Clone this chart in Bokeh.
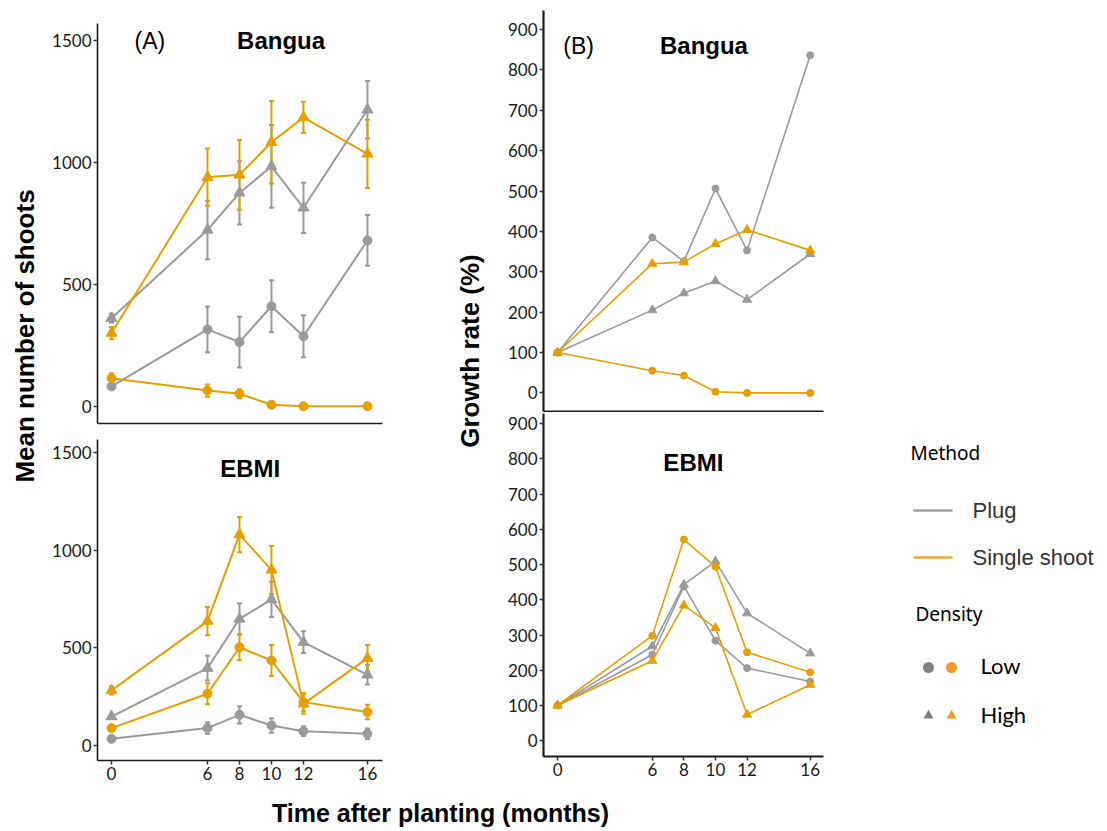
import math
from bokeh.plotting import figure
from bokeh.layouts import row, column
from bokeh.models import Range1d, FixedTicker, Label, Whisker, TeeHead, ColumnDataSource
from bokeh.embed import file_html
from bokeh.resources import INLINE

# ---------------- data ----------------
months = [0, 6, 8, 10, 12, 16]
month_labels = ["0", "6", "8", "10", "12", "16"]
shoot_ticks = [0, 500, 1000, 1500]
growth_ticks = [0, 100, 200, 300, 400, 500, 600, 700, 800, 900]

# (A) Mean number of shoots - Bangua
shoots_bangua_plug_low = [81, 315, 263, 410, 287, 680]
shoots_bangua_plug_low_se = [10, 94, 104, 107, 86, 104]
shoots_bangua_plug_high = [361, 723, 875, 984, 814, 1216]
shoots_bangua_plug_high_se = [18, 120, 130, 170, 103, 118]
shoots_bangua_single_low = [115, 64, 51, 6, 0, 0]
shoots_bangua_single_low_se = [20, 25, 18, 0, 0, 0]
shoots_bangua_single_high = [300, 939, 949, 1083, 1185, 1035]
shoots_bangua_single_high_se = [25, 118, 143, 169, 64, 140]

# (A) Mean number of shoots - EBMI
shoots_ebmi_plug_low = [34, 89, 157, 102, 73, 60]
shoots_ebmi_plug_low_se = [4, 30, 44, 37, 25, 27]
shoots_ebmi_plug_high = [148, 396, 648, 748, 529, 362]
shoots_ebmi_plug_high_se = [8, 63, 80, 90, 56, 50]
shoots_ebmi_single_low = [89, 265, 503, 435, 222, 171]
shoots_ebmi_single_low_se = [6, 54, 67, 79, 47, 37]
shoots_ebmi_single_high = [282, 637, 1080, 899, 213, 447]
shoots_ebmi_single_high_se = [21, 72, 90, 122, 51, 67]

# (B) Growth rate (%) - Bangua
growth_bangua_plug_low = [100, 385, 326, 506, 353, 836]
growth_bangua_plug_high = [100, 205, 247, 277, 231, 344]
growth_bangua_single_low = [100, 55, 43, 3, 0, 0]
growth_bangua_single_high = [100, 320, 324, 369, 404, 353]

# (B) Growth rate (%) - EBMI
growth_ebmi_plug_low = [100, 244, 438, 284, 206, 168]
growth_ebmi_plug_high = [100, 268, 443, 509, 362, 248]
growth_ebmi_single_low = [100, 298, 571, 494, 251, 194]
growth_ebmi_single_high = [100, 227, 384, 320, 74, 159]

GRAY = "#9a9a9a"
ORANGE = "#e69f00"
TICK_FONT = "Lato"
BOLD_FONT = "Liberation Sans"


def make_panel(width, height, xr, yr, yticks, borders, show_xlabels, axis_w):
    l, r, t, b = borders
    p = figure(width=width, height=height, x_range=Range1d(*xr), y_range=Range1d(*yr),
               output_backend="svg", toolbar_location=None,
               min_border_left=l, min_border_right=r, min_border_top=t, min_border_bottom=b)
    p.grid.visible = False
    p.outline_line_color = None
    p.background_fill_color = "white"
    p.border_fill_color = "white"
    if show_xlabels:
        p.xaxis.ticker = FixedTicker(ticks=months)
        p.xaxis.major_label_overrides = {m: s for m, s in zip(months, month_labels)}
    else:
        p.xaxis.ticker = FixedTicker(ticks=[])
    p.yaxis.ticker = FixedTicker(ticks=yticks)
    for ax in p.axis:
        ax.axis_line_color = "#1a1a1a"
        ax.axis_line_width = axis_w
        ax.major_tick_line_color = "#333333"
        ax.major_tick_line_width = 1.5
        ax.major_tick_out = 4
        ax.major_tick_in = 0
        ax.minor_tick_line_color = None
        ax.major_label_text_font = TICK_FONT
        ax.major_label_text_font_size = "17px"
        ax.major_label_text_color = "#1a1a1a"
        ax.major_label_standoff = 2
    if not show_xlabels:
        p.xaxis.major_tick_out = 0
        p.xaxis.major_label_standoff = 0
    return p


def add_series(p, y, color, marker, size, lw, se=None):
    src = ColumnDataSource(dict(x=months, y=y))
    if se is not None:
        bx = [m for m, s in zip(months, se) if s > 0]
        lo = [v - s for v, s in zip(y, se) if s > 0]
        up = [v + s for v, s in zip(y, se) if s > 0]
        wsrc = ColumnDataSource(dict(base=bx, lower=lo, upper=up))
        w = Whisker(source=wsrc, base="base", lower="lower", upper="upper",
                    line_color=color, line_width=2,
                    upper_head=TeeHead(size=5, line_color=color, line_width=2),
                    lower_head=TeeHead(size=5, line_color=color, line_width=2))
        p.add_layout(w)
    p.line("x", "y", source=src, line_color=color, line_width=lw)
    p.scatter("x", "y", source=src, marker=marker, size=size,
              fill_color=color, line_color=color)


def panel_text(p, x, y, text, size, bold=True):
    p.add_layout(Label(x=x, y=y, text=text, text_align="center", text_baseline="middle",
                       text_font=BOLD_FONT, text_font_size=size,
                       text_font_style="bold" if bold else "normal", text_color="black"))


# ---------------- panels ----------------
A_XR = (-0.875, 16.94)
B_XR = (-0.89, 16.84)

# page coords: A frame x 97..382 ; A top frame y 23..423 ; A bottom frame y 439..760
a_top = make_panel(344, 431, A_XR, (-71, 1570), shoot_ticks, (49, 10, 23, 8), False, 1.6)
a_bot = make_panel(344, 357, A_XR, (-77, 1567), shoot_ticks, (49, 10, 8, 28), True, 1.6)
# B frame x 543..823 ; B top frame y 10..411 ; B bottom frame y 413..756
b_top = make_panel(335, 412, B_XR, (-46, 947), growth_ticks, (45, 10, 10, 1), False, 2.2)
b_bot = make_panel(335, 376, B_XR, (-45, 929), growth_ticks, (45, 10, 1, 32), True, 2.2)

# A top - Bangua
add_series(a_top, shoots_bangua_plug_low, GRAY, "circle", 9, 2, shoots_bangua_plug_low_se)
add_series(a_top, shoots_bangua_plug_high, GRAY, "triangle", 11, 2, shoots_bangua_plug_high_se)
add_series(a_top, shoots_bangua_single_low, ORANGE, "circle", 9, 2, shoots_bangua_single_low_se)
add_series(a_top, shoots_bangua_single_high, ORANGE, "triangle", 11, 2, shoots_bangua_single_high_se)
panel_text(a_top, 2.4, 1498, "(A)", "23px", bold=False)
panel_text(a_top, 10.6, 1500, "Bangua", "24px")

# A bottom - EBMI
add_series(a_bot, shoots_ebmi_plug_low, GRAY, "circle", 9, 2, shoots_ebmi_plug_low_se)
add_series(a_bot, shoots_ebmi_plug_high, GRAY, "triangle", 11, 2, shoots_ebmi_plug_high_se)
add_series(a_bot, shoots_ebmi_single_low, ORANGE, "circle", 9, 2, shoots_ebmi_single_low_se)
add_series(a_bot, shoots_ebmi_single_high, ORANGE, "triangle", 11, 2, shoots_ebmi_single_high_se)
panel_text(a_bot, 8.67, 1418, "EBMI", "24px")

# B top - Bangua
add_series(b_top, growth_bangua_plug_low, GRAY, "circle", 7, 1.6)
add_series(b_top, growth_bangua_plug_high, GRAY, "triangle", 9, 1.6)
add_series(b_top, growth_bangua_single_low, ORANGE, "circle", 7, 1.6)
add_series(b_top, growth_bangua_single_high, ORANGE, "triangle", 9, 1.6)
panel_text(b_top, 1.33, 858, "(B)", "23px", bold=False)
panel_text(b_top, 9.27, 861, "Bangua", "24px")

# B bottom - EBMI
add_series(b_bot, growth_ebmi_plug_low, GRAY, "circle", 7, 1.6)
add_series(b_bot, growth_ebmi_plug_high, GRAY, "triangle", 9, 1.6)
add_series(b_bot, growth_ebmi_single_low, ORANGE, "circle", 7, 1.6)
add_series(b_bot, growth_ebmi_single_high, ORANGE, "triangle", 9, 1.6)
panel_text(b_bot, 8.6, 790, "EBMI", "24px")


# ---------------- helper canvases (labels / legend) ----------------
def blank(width, height):
    p = figure(width=width, height=height, x_range=Range1d(0, width), y_range=Range1d(height, 0),
               output_backend="svg", toolbar_location=None,
               x_axis_location=None, y_axis_location=None,
               min_border=0, min_border_left=0, min_border_right=0,
               min_border_top=0, min_border_bottom=0)
    p.grid.visible = False
    p.outline_line_color = None
    p.background_fill_color = "white"
    p.border_fill_color = "white"
    return p


ROW_H = 788
ylab_a = blank(48, ROW_H)
ylab_a.add_layout(Label(x=24, y=335.5, text="Mean number of shoots", angle=math.pi / 2,
                        text_align="center", text_baseline="middle",
                        text_font=BOLD_FONT, text_font_style="bold", text_font_size="26px",
                        text_color="black"))

ylab_b = blank(106, ROW_H)
ylab_b.add_layout(Label(x=77, y=350.5, text="Growth rate (%)", angle=math.pi / 2,
                        text_align="center", text_baseline="middle",
                        text_font=BOLD_FONT, text_font_style="bold", text_font_size="26px",
                        text_color="black"))

# legend canvas (local coords: x = page_x - 833, y = page_y)
leg = blank(270, ROW_H)
leg.add_layout(Label(x=77, y=452, text="Method", text_baseline="middle",
                     text_font="Noto Sans", text_font_size="19px", text_color="black"))
leg.line([80, 119], [510, 510], line_color="#a0a0a0", line_width=2.5)
leg.line([80, 119], [557, 557], line_color="#f0a830", line_width=2.5)
leg.add_layout(Label(x=139, y=510, text="Plug", text_baseline="middle",
                     text_font=BOLD_FONT, text_font_size="22px", text_color="#333333"))
leg.add_layout(Label(x=139, y=557, text="Single shoot", text_baseline="middle",
                     text_font=BOLD_FONT, text_font_size="22px", text_color="#333333"))
leg.add_layout(Label(x=82, y=613, text="Density", text_baseline="middle",
                     text_font="Noto Sans", text_font_size="19px", text_color="black"))
leg.scatter([95, 118], [667, 667], marker="circle", size=11,
            fill_color=["#808080", "#f39c2b"], line_color=None)
leg.scatter([95, 118], [715, 715], marker="triangle", size=10,
            fill_color=["#808080", "#f39c2b"], line_color=None)
leg.add_layout(Label(x=147, y=665, text="Low", text_baseline="middle",
                     text_font=TICK_FONT, text_font_size="22px", text_color="black"))
leg.add_layout(Label(x=147, y=714, text="High", text_baseline="middle",
                     text_font=TICK_FONT, text_font_size="22px", text_color="black"))

xlab = blank(1103, 40)
xlab.add_layout(Label(x=440, y=24, text="Time after planting (months)",
                      text_align="center", text_baseline="middle",
                      text_font=BOLD_FONT, text_font_style="bold", text_font_size="25px",
                      text_color="black"))

layout = column(
    row(ylab_a, column(a_top, a_bot, spacing=0), ylab_b, column(b_top, b_bot, spacing=0), leg, spacing=0),
    xlab,
    spacing=0,
)

open("out.html", "w").write(file_html(layout, INLINE))
